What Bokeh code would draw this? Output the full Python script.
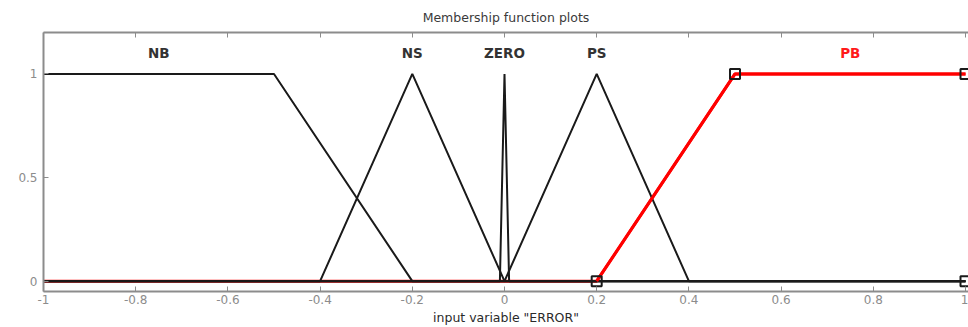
from bokeh.plotting import figure
from bokeh.models import LinearAxis, FixedTicker, ColumnDataSource
from bokeh.core.properties import value
from bokeh.embed import file_html
from bokeh.resources import INLINE

# Membership functions of the input variable "ERROR" (vertex lists over [-1, 1])
nb_x = [-1.0, -0.5, -0.2, 1.0]
nb_y = [1.0, 1.0, 0.0, 0.0]
ns_x = [-1.0, -0.4, -0.2, 0.0, 1.0]
ns_y = [0.0, 0.0, 1.0, 0.0, 0.0]
zero_x = [-1.0, -0.01, 0.0, 0.01, 1.0]
zero_y = [0.0, 0.0, 1.0, 0.0, 0.0]
ps_x = [-1.0, 0.0, 0.2, 0.4, 1.0]
ps_y = [0.0, 0.0, 1.0, 0.0, 0.0]
pb_x = [-1.0, 0.2, 0.5, 1.0]
pb_y = [0.0, 0.0, 1.0, 1.0]
pb_handle_x = [0.2, 0.5, 1.0, 1.0]
pb_handle_y = [0.0, 1.0, 1.0, 0.0]

mf_names = ["NB", "NS", "ZERO", "PS"]
mf_label_x = [-0.75, -0.2, 0.0, 0.2]
pb_label_x = [0.75]
label_y = 1.1

x_ticks = [-1.0, -0.8, -0.6, -0.4, -0.2, 0.0, 0.2, 0.4, 0.6, 0.8, 1.0]
x_tick_labels = ["-1", "-0.8", "-0.6", "-0.4", "-0.2", "0", "0.2", "0.4", "0.6", "0.8", "1"]
y_ticks = [0.0, 0.5, 1.0]
y_tick_labels = ["0", "0.5", "1"]

FONT = "DejaVu Sans"
GRAY = "#8c8c8c"

p = figure(width=968, height=327, output_backend="svg", toolbar_location=None,
           x_range=(-1.0, 1.0065), y_range=(-0.05, 1.2),
           min_border_left=43, min_border_right=0, min_border_top=32,
           min_border_bottom=36, x_axis_location="below")
p.title.text = "Membership function plots"
p.title.align = "center"
p.title.text_font = FONT
p.title.text_font_size = "12.5px"
p.title.text_font_style = "normal"
p.title.text_color = "#3a3a3a"
p.title.standoff = 15

p.xgrid.visible = False
p.ygrid.visible = False
p.outline_line_color = None
p.background_fill_color = "white"
p.border_fill_color = "white"

for ax in (p.xaxis[0], p.yaxis[0]):
    ax.axis_line_color = GRAY
    ax.axis_line_width = 2
    ax.major_tick_line_color = GRAY
    ax.major_tick_in = 5
    ax.major_tick_out = 0
    ax.minor_tick_line_color = None
    ax.major_label_text_font = FONT
    ax.major_label_text_font_size = "12px"
    ax.major_label_text_color = GRAY

p.xaxis[0].ticker = FixedTicker(ticks=x_ticks)
p.xaxis[0].major_label_overrides = dict(zip(x_ticks, x_tick_labels))
p.xaxis[0].major_label_standoff = 3
p.xaxis[0].axis_label = 'input variable "ERROR"'
p.xaxis[0].axis_label_text_font = FONT
p.xaxis[0].axis_label_text_font_size = "12.5px"
p.xaxis[0].axis_label_text_font_style = "normal"
p.xaxis[0].axis_label_text_color = "#2a2a2a"
p.xaxis[0].axis_label_standoff = 3

p.yaxis[0].ticker = FixedTicker(ticks=y_ticks)
p.yaxis[0].major_label_overrides = dict(zip(y_ticks, y_tick_labels))
p.yaxis[0].major_label_standoff = 6

# box top: tick marks only
top = LinearAxis(ticker=FixedTicker(ticks=x_ticks), axis_line_color=GRAY, axis_line_width=2,
                 major_tick_line_color=GRAY, major_tick_in=5, major_tick_out=0,
                 minor_tick_line_color=None, major_label_standoff=0,
                 major_label_overrides={t: "" for t in x_ticks})
p.add_layout(top, "above")

# selected function drawn in red underneath the others
p.line(pb_x, pb_y, line_color="#ff0000", line_width=3)
for xs, ys in ((nb_x, nb_y), (ns_x, ns_y), (zero_x, zero_y), (ps_x, ps_y)):
    p.line(xs, ys, line_color="#1a1a1a", line_width=2)
p.line(pb_x[1:], pb_y[1:], line_color="#ff0000", line_width=3)
p.scatter(pb_handle_x, pb_handle_y, marker="square", size=10, fill_color=None,
          line_color="#1a1a1a", line_width=2)

lab = ColumnDataSource(data=dict(x=mf_label_x, y=[label_y] * len(mf_names), t=mf_names))
p.text(x="x", y="y", text="t", source=lab, text_font=value(FONT), text_font_size="13.5px",
       text_font_style="bold", text_color="#333333", text_align="center", text_baseline="middle")
p.text(x=pb_label_x, y=[label_y], text=["PB"], text_font=value(FONT), text_font_size="13.5px",
       text_font_style="bold", text_color="#ff1a1a", text_align="center", text_baseline="middle")

open("out.html", "w").write(file_html(p, INLINE))
